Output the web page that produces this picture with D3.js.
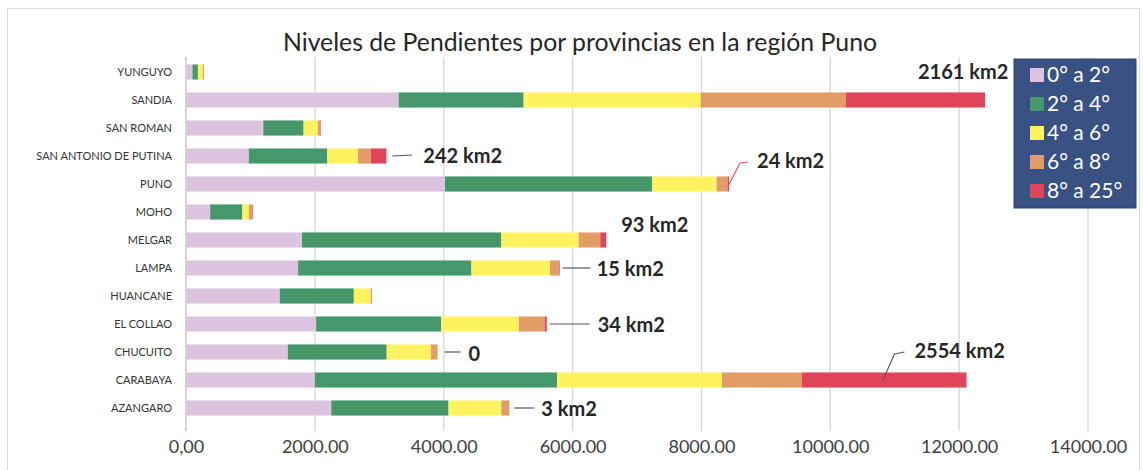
<!DOCTYPE html>
<html><head><meta charset="utf-8">
<script src="https://cdn.jsdelivr.net/npm/d3@7"></script>
<style>body{margin:0;background:#fff}svg{display:block}</style>
</head><body>
<svg id="c" width="1143" height="470"></svg>
<script>
const categories = ["YUNGUYO","SANDIA","SAN ROMAN","SAN ANTONIO DE PUTINA","PUNO","MOHO","MELGAR","LAMPA","HUANCANE","EL COLLAO","CHUCUITO","CARABAYA","AZANGARO"];
const seriesNames = ["0° a 2°","2° a 4°","4° a 6°","6° a 8°","8° a 25°"];
const s0a2  = [100, 3300, 1200,  975, 4020, 375, 1800, 1740, 1455, 2020, 1580, 2000, 2255];
const s2a4  = [ 85, 1940,  625, 1218, 3215, 500, 3095, 2690, 1150, 1940, 1535, 3760, 1820];
const s4a6  = [ 75, 2750,  220,  475, 1000, 100, 1200, 1220,  260, 1205,  685, 2560,  820];
const s6a8  = [ 15, 2250,   45,  200,  170,  50,  335,  135,   20,  400,  105, 1240,  120];
const s8a25 = [  5, 2161,    5,  242,   24,  10,   93,   15,    3,   34,    0, 2554,    3];
const tickValues = [0,2000,4000,6000,8000,10000,12000,14000];
const tickLabels = ["0,00","2000.00","4000.00","6000.00","8000.00","10000.00","12000.00","14000.00"];
const annotations = [
  {cat:"SANDIA", text:"2161 km2"},
  {cat:"SAN ANTONIO DE PUTINA", text:"242 km2"},
  {cat:"PUNO", text:"24 km2"},
  {cat:"MELGAR", text:"93 km2"},
  {cat:"LAMPA", text:"15 km2"},
  {cat:"EL COLLAO", text:"34 km2"},
  {cat:"CHUCUITO", text:"0"},
  {cat:"CARABAYA", text:"2554 km2"},
  {cat:"AZANGARO", text:"3 km2"}
];
const colors = ["#dcc4df","#47976c","#fdf35e","#e29c66","#e0445a"];
const FONT = "Lato, 'Open Sans', sans-serif";

const svg = d3.select("#c");
// frame
svg.append("rect").attr("x",7.5).attr("y",8.5).attr("width",1132).attr("height",470)
  .attr("fill","none").attr("stroke","#d9d9d9");

const x = d3.scaleLinear().domain([0,14000]).range([186,1088]);
const y = d3.scaleBand().domain(categories).range([58,422]).paddingInner(0.46).paddingOuter(0.23);

// gridlines
svg.append("g").selectAll("line").data(tickValues).join("line")
  .attr("x1",d=>x(d)).attr("x2",d=>x(d)).attr("y1",57).attr("y2",431)
  .attr("stroke",d=>d===0?"#bfbfbf":"#d6d6d6").attr("stroke-width",1.3);

// x axis labels via d3 axis
const xAxis = d3.axisBottom(x).tickValues(tickValues).tickFormat((d,i)=>tickLabels[i]).tickSize(0).tickPadding(0);
const gx = svg.append("g").attr("transform","translate(0,440)").call(xAxis);
gx.select(".domain").remove();
gx.selectAll("text").attr("font-family",FONT).attr("font-size",18).attr("fill","#404040").attr("dy","0.7em");

// y labels
const yAxis = d3.axisLeft(y).tickSize(0).tickPadding(0);
const gy = svg.append("g").attr("transform","translate(172,0)").call(yAxis);
gy.select(".domain").remove();
gy.selectAll("text").attr("font-family",FONT).attr("font-size",11).attr("fill","#333");

// stacked data
const series = [s0a2,s2a4,s4a6,s6a8,s8a25];
const rows = categories.map((c,i)=>{const o={cat:c}; seriesNames.forEach((n,k)=>o[n]=series[k][i]); return o;});
const stacked = d3.stack().keys(seriesNames)(rows);
svg.append("g").selectAll("g").data(stacked).join("g").attr("fill",(d,i)=>colors[i])
  .selectAll("rect").data(d=>d).join("rect")
  .attr("x",d=>x(d[0])).attr("width",d=>Math.max(0,x(d[1])-x(d[0])))
  .attr("y",d=>y(d.data.cat)).attr("height",y.bandwidth());

// annotations
const total = c => { const i = categories.indexOf(c); return series.reduce((s,a)=>s+a[i],0); };
const layout = {
  "SANDIA":{tx:-67,ty:-21,leader:null},
  "SAN ANTONIO DE PUTINA":{tx:37,ty:7,leader:[[6,0],[26,-1]]},
  "PUNO":{tx:28,ty:-16,leader:[[-1,2],[11,-21],[19,-22]],lc:"#d9534f"},
  "MELGAR":{tx:15,ty:-8,leader:null},
  "LAMPA":{tx:37,ty:8,leader:[[3,0],[31,0]]},
  "EL COLLAO":{tx:51,ty:8,leader:[[3,0],[43,0]]},
  "CHUCUITO":{tx:31,ty:9,leader:[[7,0],[23,0]]},
  "CARABAYA":{tx:-52,ty:-22,leader:[[-84,1],[-72,-26],[-62,-28]]},
  "AZANGARO":{tx:32,ty:8,leader:[[5,0],[25,0]]}
};
const ga = svg.append("g");
annotations.forEach(a=>{
  const bx = x(total(a.cat)), by = y(a.cat)+y.bandwidth()/2;
  const L = layout[a.cat];
  if (L.leader) ga.append("path").attr("d", d3.line()(L.leader.map(p=>[bx+p[0],by+p[1]])))
    .attr("fill","none").attr("stroke",L.lc||"#595959").attr("stroke-width",1.2);
  ga.append("text").attr("x",bx+L.tx).attr("y",by+L.ty).text(a.text)
    .attr("font-family",FONT).attr("font-weight","bold").attr("font-size",20).attr("fill","#262626");
});

// title
svg.append("text").attr("x",580).attr("y",51).attr("text-anchor","middle")
  .attr("font-family",FONT).attr("font-size",24.8).attr("fill","#262626")
  .text("Niveles de Pendientes por provincias en la región Puno");

// legend
const lg = svg.append("g");
lg.append("rect").attr("x",1014).attr("y",59).attr("width",122).attr("height",149).attr("fill","#3a5184")
  .attr("stroke","#2e4270");
seriesNames.forEach((n,i)=>{
  const yy = 75 + i*29;
  lg.append("rect").attr("x",1030).attr("y",yy-7).attr("width",14).attr("height",14).attr("fill",colors[i]);
  lg.append("text").attr("x",1047).attr("y",yy+7).text(n).attr("font-family",FONT)
    .attr("font-size",21).attr("fill","#fff");
});
</script>
</body></html>
